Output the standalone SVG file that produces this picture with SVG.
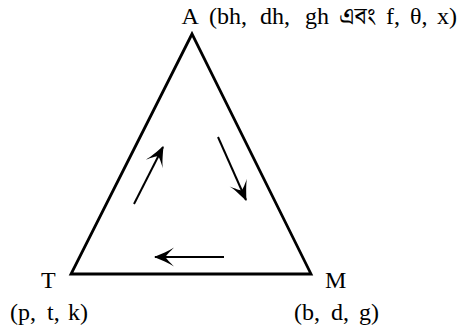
<svg xmlns="http://www.w3.org/2000/svg" width="468" height="334" viewBox="0 0 468 334">
<style>
  text { font-family: "Liberation Serif", "Noto Serif Bengali", "Noto Sans Bengali", "Lohit Bengali", serif; font-size: 24px; fill: #000; }
  .edge { fill: none; stroke: #000; stroke-width: 2.8; stroke-linejoin: miter; }
  .arr { fill: none; stroke: #000; stroke-width: 2; marker-end: url(#head); }
</style>
<defs>
  <marker id="head" markerUnits="userSpaceOnUse" markerWidth="24" markerHeight="22" refX="20" refY="11" orient="auto" overflow="visible">
    <path d="M21,11 C14,8 6,5 1,1.5 C5,5.5 8.5,9 9.5,11 C8.5,13 5,16.5 1,20.5 C6,17 14,14 21,11 Z" fill="#000"/>
  </marker>
</defs>
<g id="triangle">
  <path class="edge" d="M192,34 L71,274 L311,274 Z"/>
</g>
<g id="connectors">
  <line class="arr" x1="134" y1="204" x2="163" y2="147"/>
  <line class="arr" x1="218" y1="137" x2="246" y2="200"/>
  <line class="arr" x1="224" y1="257" x2="155" y2="257"/>
</g>
<g id="node-A">
  <text y="24"><tspan x="181.5">A</tspan><tspan x="209">(bh,</tspan><tspan x="260">dh,</tspan><tspan x="305">gh</tspan><tspan x="339">এবং</tspan><tspan x="386">f,</tspan><tspan x="410">θ,</tspan><tspan x="437">x)</tspan></text>
</g>
<g id="node-T">
  <text x="41" y="288">T</text>
  <text y="320"><tspan x="10">(p,</tspan><tspan x="47">t,</tspan><tspan x="68">k)</tspan></text>
</g>
<g id="node-M">
  <text x="325" y="288">M</text>
  <text y="320"><tspan x="294">(b,</tspan><tspan x="331">d,</tspan><tspan x="359">g)</tspan></text>
</g>
</svg>
